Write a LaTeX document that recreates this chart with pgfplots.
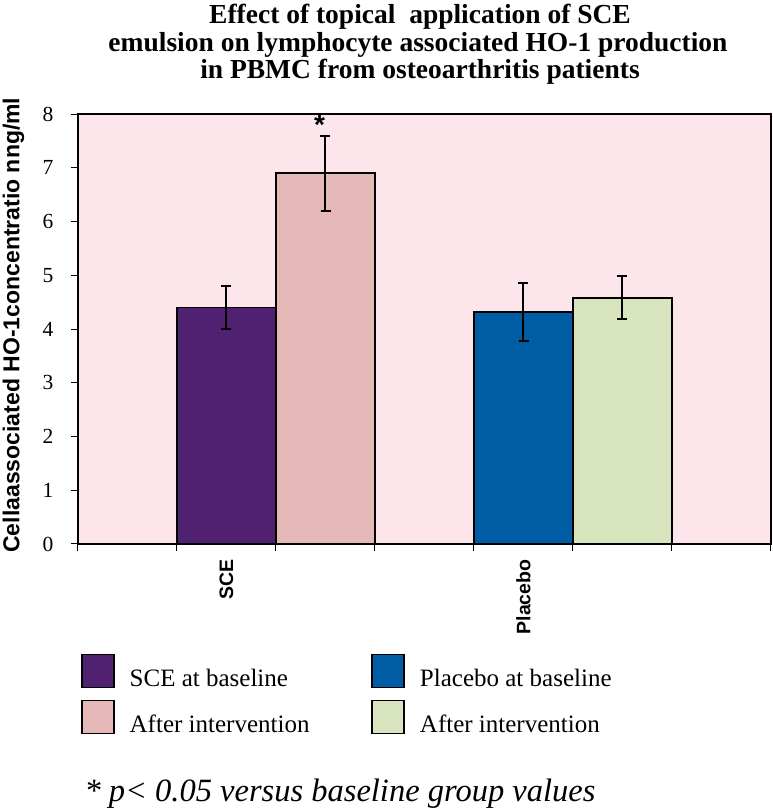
\documentclass[border=0pt]{standalone}
\usepackage{fontspec}
\setmainfont{Liberation Serif}
\setsansfont{Liberation Sans}
\usepackage{pgfplots}
\pgfplotsset{compat=1.18}
\definecolor{bgpink}{RGB}{253,229,236}
\definecolor{scebase}{RGB}{79,33,112}
\definecolor{sceafter}{RGB}{229,185,184}
\definecolor{plbase}{RGB}{0,93,163}
\definecolor{plafter}{RGB}{216,228,190}
\pgfplotsset{
  mylegend/.style={legend image code/.code={\draw[##1,draw=black,line width=1.5pt] (0pt,-9pt) rectangle (32pt,24pt);}},
  mybar/.style={ybar, bar width=99pt, bar shift=0pt, draw=black, line width=1.5pt, mylegend,
    /pgfplots/error bars/y dir=both, /pgfplots/error bars/y explicit,
    /pgfplots/error bars/error bar style={line width=2pt, black},
    /pgfplots/error bars/error mark options={line width=2pt, black, mark size=5pt, rotate=90}},
}
\begin{document}
\begin{tikzpicture}
\useasboundingbox (0pt,0pt) rectangle (773pt,809pt);
\node[anchor=base, font=\fontsize{27.5}{28}\selectfont\bfseries] at (420pt,785pt) {Effect of topical\ \ application of SCE};
\node[anchor=base, font=\fontsize{27.5}{28}\selectfont\bfseries] at (418pt,757pt) {emulsion on lymphocyte associated HO-1 production};
\node[anchor=base, font=\fontsize{27.5}{28}\selectfont\bfseries] at (420pt,730pt) {in PBMC from osteoarthritis patients};
\begin{axis}[
  at={(78pt,265pt)}, anchor=south west,
  scale only axis, width=693pt, height=430pt,
  xmin=0, xmax=7, ymin=0, ymax=8,
  axis background/.style={fill=bgpink},
  axis line style={line width=1.5pt},
  tick style={black, line width=1pt},
  major tick length=7pt, tick align=outside,
  tick pos=left,
  xtick={0,1,2,3,4,5,6,7}, xticklabels={},
  extra x ticks={1.5,4.5},
  extra x tick labels={SCE,Placebo},
  extra x tick style={major tick length=0pt,
    tick label style={rotate=90, anchor=east, xshift=-12pt,
      font=\sffamily\bfseries\fontsize{19.5}{22}\selectfont}},
  ytick={0,1,2,3,4,5,6,7,8},
  yticklabel style={font=\fontsize{21.5}{24}\selectfont, xshift=-14pt},
  /pgf/number format/assume math mode=true,
  ylabel={Cellaassociated HO-1concentratio nng/ml},
  ylabel style={at={(axis description cs:-0.093,0.509)}, anchor=center,
    font=\sffamily\bfseries\fontsize{23}{26}\selectfont},
  legend columns=2,
  legend cell align=left,
  legend style={at={(axis description cs:0.0,-0.25)}, anchor=north west,
    draw=none, fill=none, font=\fontsize{25}{28}\selectfont,
    row sep=10pt,
    /tikz/every odd column/.append style={column sep=13pt},
    /tikz/every even column/.append style={column sep=60pt}},
]
\addplot[mybar, fill=scebase] coordinates {(1.5,4.40) +- (0,0.40)};
\addlegendentry{SCE at baseline}
\addplot[mybar, fill=plbase] coordinates {(4.5,4.32) +- (0,0.54)};
\addlegendentry{Placebo at baseline}
\addplot[mybar, fill=sceafter] coordinates {(2.5,6.90) +- (0,0.70)};
\addlegendentry{After intervention}
\addplot[mybar, fill=plafter] coordinates {(5.5,4.58) +- (0,0.40)};
\addlegendentry{After intervention}
\node[anchor=base, font=\sffamily\bfseries\fontsize{28}{30}\selectfont] at (axis cs:2.44,7.62) {*};
\end{axis}
\node[anchor=base west, font=\itshape\fontsize{32.5}{36}\selectfont] at (81pt,8pt) {* p< 0.05 versus baseline group values};
\end{tikzpicture}
\end{document}
